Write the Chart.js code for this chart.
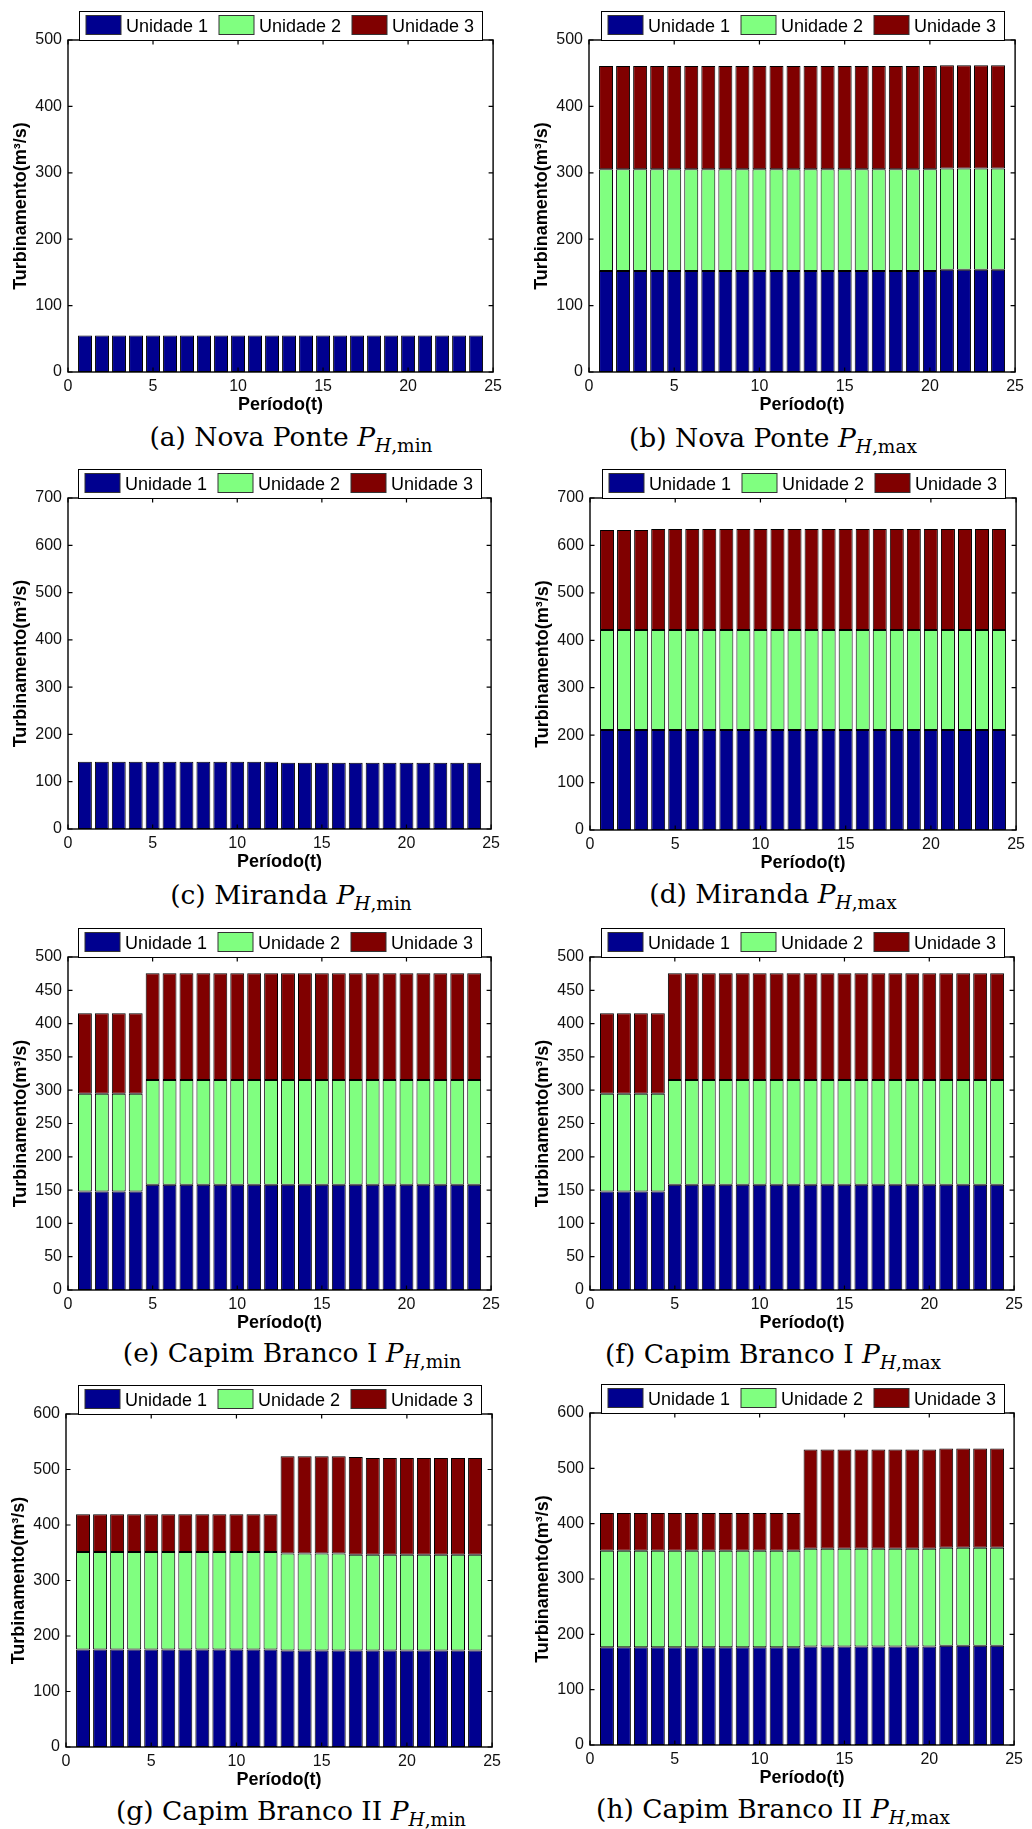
<!DOCTYPE html>
<html lang="pt-BR">
<head>
<meta charset="utf-8">
<title>Turbinamento por unidade</title>
<script src="https://cdn.jsdelivr.net/npm/chart.js@4.4.1/dist/chart.umd.min.js"></script>
<style>
    body { margin: 0; background: #fff; width: 1032px; height: 1829px; position: relative; overflow: hidden; }
    canvas { position: absolute; }
    .legenda { position: absolute; width: 516px; text-align: center; font-family: "DejaVu Serif", serif; font-size: 26.5px; line-height: 34px; color: #000; white-space: nowrap; }
    .legenda sub { font-size: 70%; vertical-align: -0.3em; line-height: 0; }
</style>
</head>
<body>
<script>
// Períodos (horas) e unidades geradoras
const periodos = [1, 2, 3, 4, 5, 6, 7, 8, 9, 10, 11, 12, 13, 14, 15, 16, 17, 18, 19, 20, 21, 22, 23, 24];
const unidades = ['Unidade 1', 'Unidade 2', 'Unidade 3'];

// Nova Ponte
const novaPonteMinU1 = [55, 55, 55, 55, 55, 55, 55, 55, 55, 55, 55, 55, 55, 55, 55, 55, 55, 55, 55, 55, 55, 55, 55, 55];
const novaPonteMinU2 = [0, 0, 0, 0, 0, 0, 0, 0, 0, 0, 0, 0, 0, 0, 0, 0, 0, 0, 0, 0, 0, 0, 0, 0];
const novaPonteMinU3 = [0, 0, 0, 0, 0, 0, 0, 0, 0, 0, 0, 0, 0, 0, 0, 0, 0, 0, 0, 0, 0, 0, 0, 0];
const novaPonteMaxU1 = [152, 152, 152, 152, 152, 152, 152, 152, 152, 152, 152, 152, 152, 152, 152, 152, 152, 152, 152, 152, 154, 154, 154, 154];
const novaPonteMaxU2 = [153.5, 153.5, 153.5, 153.5, 153.5, 153.5, 153.5, 153.5, 153.5, 153.5, 153.5, 153.5, 153.5, 153.5, 153.5, 153.5, 153.5, 153.5, 153.5, 153.5, 152.5, 152.5, 152.5, 152.5];
const novaPonteMaxU3 = [155.5, 155.5, 155.5, 155.5, 155.5, 155.5, 155.5, 155.5, 155.5, 155.5, 155.5, 155.5, 155.5, 155.5, 155.5, 155.5, 155.5, 155.5, 155.5, 155.5, 155.5, 155.5, 155.5, 155.5];

// Miranda
const mirandaMinU1 = [142, 142, 142, 142, 142, 142, 142, 142, 142, 142, 142, 142, 140, 140, 140, 140, 140, 140, 140, 140, 140, 140, 140, 140];
const mirandaMinU2 = [0, 0, 0, 0, 0, 0, 0, 0, 0, 0, 0, 0, 0, 0, 0, 0, 0, 0, 0, 0, 0, 0, 0, 0];
const mirandaMinU3 = [0, 0, 0, 0, 0, 0, 0, 0, 0, 0, 0, 0, 0, 0, 0, 0, 0, 0, 0, 0, 0, 0, 0, 0];
const mirandaMaxU1 = [211, 211, 211, 211, 211, 211, 211, 211, 211, 211, 211, 211, 211, 211, 211, 211, 211, 211, 211, 211, 211, 211, 211, 211];
const mirandaMaxU2 = [210.5, 210.5, 210.5, 210.5, 210.5, 210.5, 210.5, 210.5, 210.5, 210.5, 210.5, 210.5, 210.5, 210.5, 210.5, 210.5, 210.5, 210.5, 210.5, 210.5, 210.5, 210.5, 210.5, 210.5];
const mirandaMaxU3 = [211, 211, 211, 213, 213, 213, 213, 213, 213, 213, 213, 213, 213, 213, 213, 213, 213, 213, 213, 213, 213, 213, 213, 213];

// Capim Branco I
const capimIMinU1 = [148, 148, 148, 148, 158, 158, 158, 158, 158, 158, 158, 158, 158, 158, 158, 158, 158, 158, 158, 158, 158, 158, 158, 158];
const capimIMinU2 = [146.5, 146.5, 146.5, 146.5, 157.5, 157.5, 157.5, 157.5, 157.5, 157.5, 157.5, 157.5, 157.5, 157.5, 157.5, 157.5, 157.5, 157.5, 157.5, 157.5, 157.5, 157.5, 157.5, 157.5];
const capimIMinU3 = [121, 121, 121, 121, 160, 160, 160, 160, 160, 160, 160, 160, 160, 160, 160, 160, 160, 160, 160, 160, 160, 160, 160, 160];
const capimIMaxU1 = [148, 148, 148, 148, 158, 158, 158, 158, 158, 158, 158, 158, 158, 158, 158, 158, 158, 158, 158, 158, 158, 158, 158, 158];
const capimIMaxU2 = [146.5, 146.5, 146.5, 146.5, 157.5, 157.5, 157.5, 157.5, 157.5, 157.5, 157.5, 157.5, 157.5, 157.5, 157.5, 157.5, 157.5, 157.5, 157.5, 157.5, 157.5, 157.5, 157.5, 157.5];
const capimIMaxU3 = [121, 121, 121, 121, 160, 160, 160, 160, 160, 160, 160, 160, 160, 160, 160, 160, 160, 160, 160, 160, 160, 160, 160, 160];

// Capim Branco II
const capimIIMinU1 = [175.5, 175.5, 175.5, 175.5, 175.5, 175.5, 175.5, 175.5, 175.5, 175.5, 175.5, 175.5, 174, 174, 174, 174, 174, 174, 174, 174, 174, 174, 174, 174];
const capimIIMinU2 = [176, 176, 176, 176, 176, 176, 176, 176, 176, 176, 176, 176, 174.5, 174.5, 174.5, 174.5, 172.5, 172.5, 172.5, 172.5, 172.5, 172.5, 172.5, 172.5];
const capimIIMinU3 = [68, 68, 68, 68, 68, 68, 68, 68, 68, 68, 68, 68, 175.5, 175.5, 175.5, 175.5, 176, 174, 174, 174, 174, 174, 174, 174];
const capimIIMaxU1 = [176.5, 176.5, 176.5, 176.5, 176.5, 176.5, 176.5, 176.5, 176.5, 176.5, 176.5, 176.5, 178, 178, 178, 178, 178, 178, 178, 178, 179.5, 179.5, 179.5, 179.5];
const capimIIMaxU2 = [174.5, 174.5, 174.5, 174.5, 174.5, 174.5, 174.5, 174.5, 174.5, 174.5, 174.5, 174.5, 176.5, 176.5, 176.5, 176.5, 176.5, 176.5, 176.5, 176.5, 177, 177, 177, 177];
const capimIIMaxU3 = [68.5, 68.5, 68.5, 68.5, 68.5, 68.5, 68.5, 68.5, 68.5, 68.5, 68.5, 68.5, 179.5, 179.5, 179.5, 179.5, 179.5, 179.5, 179.5, 179.5, 179.5, 179.5, 179.5, 179.5];

// Cores do colormap jet (3 unidades)
const cores = ['#00008f', '#80ff80', '#800000'];

// Cada subfigura: séries, eixo y e retângulo dos eixos [esq, topo, dir, base]
const subfiguras = [
    { rotulo: '(a) Nova Ponte', sub: 'min', series: [novaPonteMinU1, novaPonteMinU2, novaPonteMinU3], yMax: 500, yPasso: 100, eixos: [68, 40, 499, 372], legX: 291, legY: 437 },
    { rotulo: '(b) Nova Ponte', sub: 'max', series: [novaPonteMaxU1, novaPonteMaxU2, novaPonteMaxU3], yMax: 500, yPasso: 100, eixos: [589, 40, 1021, 372], legX: 773, legY: 438 },
    { rotulo: '(c) Miranda', sub: 'min', series: [mirandaMinU1, mirandaMinU2, mirandaMinU3], yMax: 700, yPasso: 100, eixos: [68, 498, 497, 829], legX: 291, legY: 895 },
    { rotulo: '(d) Miranda', sub: 'max', series: [mirandaMaxU1, mirandaMaxU2, mirandaMaxU3], yMax: 700, yPasso: 100, eixos: [590, 498, 1022, 830], legX: 773, legY: 894 },
    { rotulo: '(e) Capim Branco I', sub: 'min', series: [capimIMinU1, capimIMinU2, capimIMinU3], yMax: 500, yPasso: 50, eixos: [68, 957, 497, 1290], legX: 292, legY: 1353 },
    { rotulo: '(f) Capim Branco I', sub: 'max', series: [capimIMaxU1, capimIMaxU2, capimIMaxU3], yMax: 500, yPasso: 50, eixos: [590, 957, 1020, 1290], legX: 773, legY: 1354 },
    { rotulo: '(g) Capim Branco II', sub: 'min', series: [capimIIMinU1, capimIIMinU2, capimIIMinU3], yMax: 600, yPasso: 100, eixos: [66, 1414, 498, 1747], legX: 291, legY: 1811 },
    { rotulo: '(h) Capim Branco II', sub: 'max', series: [capimIIMaxU1, capimIIMaxU2, capimIIMaxU3], yMax: 600, yPasso: 100, eixos: [590, 1413, 1020, 1745], legX: 773, legY: 1809 }
];

const ESQ = 70, TOPO = 40, DIR = 8, BASE = 45;
const fonteSans = '"Liberation Sans", Arial, sans-serif';

// Caixa dos eixos estilo MATLAB, ticks para dentro e legenda com moldura
const caixaMatlab = {
    id: 'caixaMatlab',
    afterDraw(chart) {
        const { ctx, chartArea: a, scales: { x, y } } = chart;
        const t = 4.5;
        ctx.save();
        ctx.strokeStyle = '#000';
        ctx.lineWidth = 1.2;
        ctx.beginPath();
        y.ticks.forEach(tk => {
            const py = y.getPixelForValue(tk.value);
            ctx.moveTo(a.left, py); ctx.lineTo(a.left + t, py);
            ctx.moveTo(a.right, py); ctx.lineTo(a.right - t, py);
        });
        x.ticks.forEach(tk => {
            const px = x.getPixelForValue(tk.value);
            ctx.moveTo(px, a.bottom); ctx.lineTo(px, a.bottom - t);
            ctx.moveTo(px, a.top); ctx.lineTo(px, a.top + t);
        });
        ctx.stroke();
        ctx.lineWidth = 1.4;
        ctx.strokeRect(a.left, a.top, a.right - a.left, a.bottom - a.top);

        // legenda acima dos eixos
        const lw = 403, lh = 29;
        const lx = Math.round((a.left + a.right) / 2 - lw / 2) + 0.5;
        const ly = Math.round(a.top - lh) + 0.5;
        ctx.fillStyle = '#fff';
        ctx.fillRect(lx, ly, lw, lh);
        ctx.lineWidth = 1;
        ctx.strokeRect(lx, ly, lw, lh);
        ctx.font = '18px ' + fonteSans;
        ctx.textBaseline = 'middle';
        ctx.textAlign = 'left';
        chart.data.datasets.forEach((ds, i) => {
            const sx = lx + 6.5 + i * 133;
            ctx.fillStyle = ds.backgroundColor;
            ctx.fillRect(sx, ly + 4, 35, 19);
            ctx.strokeStyle = '#333';
            ctx.strokeRect(sx, ly + 4, 35, 19);
            ctx.fillStyle = '#000';
            ctx.fillText(ds.label, sx + 40, ly + lh / 2 + 1);
        });
        ctx.restore();
    }
};

document.addEventListener('DOMContentLoaded', function() {
    subfiguras.forEach(sf => {
        const [l, t, r, b] = sf.eixos;
        const canvas = document.createElement('canvas');
        const w = r - l + ESQ + DIR;
        const h = b - t + TOPO + BASE;
        canvas.width = w;
        canvas.height = h;
        canvas.style.left = (l - ESQ) + 'px';
        canvas.style.top = (t - TOPO) + 'px';
        canvas.style.width = w + 'px';
        canvas.style.height = h + 'px';
        document.body.appendChild(canvas);

        new Chart(canvas.getContext('2d'), {
            type: 'bar',
            data: {
                datasets: sf.series.map((valores, i) => ({
                    label: unidades[i],
                    data: periodos.map((p, k) => ({ x: p, y: valores[k] })),
                    backgroundColor: cores[i],
                    borderColor: '#000',
                    borderWidth: 1,
                    borderSkipped: false,
                    barPercentage: 0.82,
                    categoryPercentage: 1
                }))
            },
            options: {
                responsive: false,
                animation: false,
                events: [],
                layout: { padding: { left: 0, top: TOPO, right: DIR, bottom: 0 } },
                plugins: { legend: { display: false }, tooltip: { enabled: false } },
                scales: {
                    x: {
                        type: 'linear',
                        stacked: true,
                        offset: false,
                        min: 0,
                        max: 25,
                        grid: { display: false, drawTicks: false },
                        border: { display: false },
                        ticks: { stepSize: 5, padding: 5, maxRotation: 0, autoSkip: false, color: '#111', font: { family: fonteSans, size: 16 } },
                        title: { display: true, text: 'Período(t)', color: '#000', padding: { top: 0, bottom: 1.2 }, font: { family: fonteSans, size: 18, weight: 'bold' } },
                        afterFit: s => { s.height = BASE; }
                    },
                    y: {
                        stacked: true,
                        min: 0,
                        max: sf.yMax,
                        grid: { display: false, drawTicks: false },
                        border: { display: false },
                        ticks: { stepSize: sf.yPasso, padding: 6, color: '#111', font: { family: fonteSans, size: 16 } },
                        title: { display: true, text: 'Turbinamento(m³/s)', color: '#000', padding: { top: 12.7, bottom: 0 }, font: { family: fonteSans, size: 18, weight: 'bold' } },
                        afterFit: s => { s.width = ESQ; }
                    }
                }
            },
            plugins: [caixaMatlab]
        });

        // legenda da subfigura
        const leg = document.createElement('div');
        leg.className = 'legenda';
        leg.style.left = (sf.legX - 258) + 'px';
        leg.style.top = (sf.legY - 17) + 'px';
        leg.innerHTML = sf.rotulo + ' <i>P</i><sub><i>H</i>,' + sf.sub + '</sub>';
        document.body.appendChild(leg);
    });
});
</script>
</body>
</html>
